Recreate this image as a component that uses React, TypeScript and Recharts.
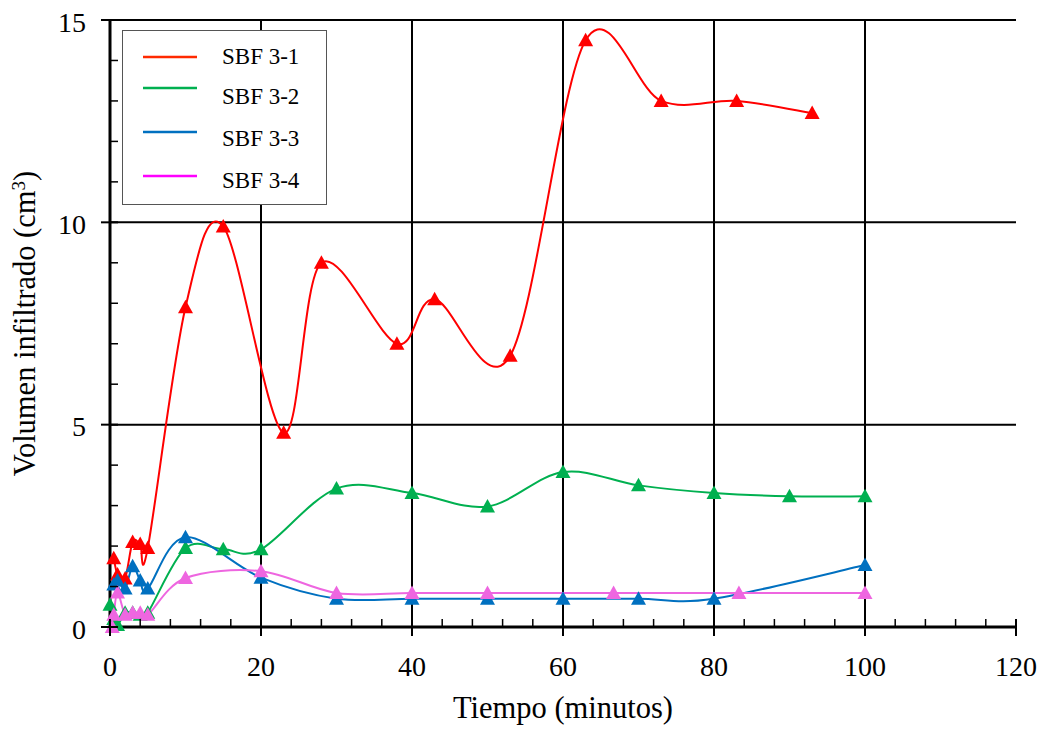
import React from 'react';
import { LineChart, Line, XAxis, YAxis, ReferenceLine, Legend, Label } from 'recharts';

const seriesNames = ['SBF 3-1', 'SBF 3-2', 'SBF 3-3', 'SBF 3-4'];
const lineColors = ['#FF0000', '#00B050', '#0070C0', '#EE66E0'];
const legendColors = ['#FF2A00', '#00B050', '#0070C0', '#FF00FF'];

const sbf31X = [0.5, 1, 2, 3, 4, 5, 10, 15, 23, 28, 38, 43, 53, 63, 73, 83, 93];
const sbf31Y = [1.7, 1.3, 1.2, 2.1, 2.05, 1.95, 7.9, 9.9, 4.8, 9.0, 7.0, 8.1, 6.7, 14.5, 13.0, 13.0, 12.7];

const sbf32X = [0, 0.5, 1, 2, 3, 4, 5, 10, 15, 20, 30, 40, 50, 60, 70, 80, 90, 100];
const sbf32Y = [0.55, 0.2, 0.05, 0.35, 0.35, 0.3, 0.35, 1.95, 1.92, 1.92, 3.42, 3.31, 2.98, 3.83, 3.5, 3.31, 3.23, 3.23];

const sbf33X = [0.5, 1, 2, 3, 4, 5, 10, 20, 30, 40, 50, 60, 70, 80, 100];
const sbf33Y = [1.05, 1.15, 0.95, 1.5, 1.15, 0.95, 2.22, 1.22, 0.7, 0.7, 0.7, 0.7, 0.7, 0.7, 1.53];

const sbf34X = [0.3, 0.5, 1, 2, 3, 4, 5, 10, 20, 30, 40, 50, 66.7, 83.3, 100];
const sbf34Y = [0, 0.3, 0.85, 0.3, 0.35, 0.35, 0.3, 1.21, 1.38, 0.84, 0.84, 0.84, 0.84, 0.84, 0.84];

const xTicks = [0, 4, 8, 12, 16, 20, 24, 28, 32, 36, 40, 44, 48, 52, 56, 60, 64, 68, 72, 76, 80, 84, 88, 92, 96, 100, 104, 108, 112, 116, 120];
const xMajor = [0, 20, 40, 60, 80, 100, 120];
const yTicks = [0, 1, 2, 3, 4, 5, 6, 7, 8, 9, 10, 11, 12, 13, 14, 15];
const yMajor = [0, 5, 10, 15];
const xGrid = [20, 40, 60, 80, 100];
const yGrid = [5, 10, 15];

const build = (xs: number[], ys: number[]) => xs.map((x, i) => ({ x, y: ys[i] }));
const seriesData = [build(sbf31X, sbf31Y), build(sbf32X, sbf32Y), build(sbf33X, sbf33Y), build(sbf34X, sbf34Y)];

const FONT = "'Liberation Serif', 'Times New Roman', 'DejaVu Serif', serif";
const fontStyle = { fontFamily: FONT };

// Excel-like smoothed line (Catmull-Rom through points)
function smoothCurve(context: any) {
  let pts: number[][] = [];
  return {
    areaStart() {},
    areaEnd() {},
    lineStart() { pts = []; },
    point(x: number, y: number) { pts.push([+x, +y]); },
    lineEnd() {
      const n = pts.length;
      if (!n) return;
      context.moveTo(pts[0][0], pts[0][1]);
      for (let i = 0; i < n - 1; i++) {
        const p0 = pts[i - 1] || pts[i];
        const p1 = pts[i];
        const p2 = pts[i + 1];
        const p3 = pts[i + 2] || p2;
        const c1x = p1[0] + (p2[0] - p0[0]) / 6;
        const c1y = p1[1] + (p2[1] - p0[1]) / 6;
        const c2x = p2[0] - (p3[0] - p1[0]) / 6;
        const c2y = p2[1] - (p3[1] - p1[1]) / 6;
        context.bezierCurveTo(c1x, c1y, c2x, c2y, p2[0], p2[1]);
      }
    },
  };
}

const makeTriangle = (color: string) => (props: any) => {
  const { cx, cy, index } = props;
  if (cx == null || cy == null) return <g key={index} />;
  return (
    <polygon
      key={index}
      points={`${cx},${cy - 7.5} ${cx - 7.5},${cy + 6} ${cx + 7.5},${cy + 6}`}
      fill={color}
      stroke="none"
    />
  );
};

const XTick = (props: any) => {
  const { x, y, payload } = props;
  const v = payload.value;
  const major = xMajor.includes(v);
  return (
    <g>
      {major ? (
        <line x1={x} x2={x} y1={y - 8} y2={y + 9} stroke="#000" strokeWidth={2} />
      ) : (
        <line x1={x} x2={x} y1={y - 8} y2={y} stroke="#000" strokeWidth={1.5} />
      )}
      {major && (
        <text x={x} y={y + 49} textAnchor="middle" style={fontStyle} fontSize={28} fill="#000">
          {v}
        </text>
      )}
    </g>
  );
};

const YTick = (props: any) => {
  const { x, y, payload } = props;
  const v = payload.value;
  const major = yMajor.includes(v);
  return (
    <g>
      {major ? (
        <line x1={x - 9} x2={x + 8} y1={y} y2={y} stroke="#000" strokeWidth={2} />
      ) : (
        <line x1={x} x2={x + 8} y1={y} y2={y} stroke="#000" strokeWidth={1.5} />
      )}
      {major && (
        <text x={x - 24} y={y} dy="0.42em" textAnchor="end" style={fontStyle} fontSize={28} fill="#000">
          {v}
        </text>
      )}
    </g>
  );
};

const YTitle = (props: any) => {
  const vb = props.viewBox || {};
  const cx = 16;
  const cy = (vb.y || 0) + (vb.height || 0) / 2;
  return (
    <text
      x={cx}
      y={cy}
      dy="0.35em"
      textAnchor="middle"
      transform={`rotate(-90, ${cx}, ${cy})`}
      style={fontStyle}
      fontSize={30.5}
      fill="#000"
    >
      Volumen infiltrado (cm
      <tspan dy="-10" fontSize={19}>3</tspan>
      <tspan dy="10">)</tspan>
    </text>
  );
};

const XTitle = (props: any) => {
  const vb = props.viewBox || {};
  const cx = (vb.x || 0) + (vb.width || 0) / 2;
  const y = (vb.y || 0) + 91;
  return (
    <text x={cx} y={y} textAnchor="middle" style={fontStyle} fontSize={30.5} fill="#000">
      Tiempo (minutos)
    </text>
  );
};

const rowLineY = [27, 58, 102, 146];
const rowTextY = [26, 66, 108, 150];

const LegendBox = () => (
  <svg width={205} height={175} style={{ display: 'block' }}>
    <rect x={0.5} y={0.5} width={204} height={174} fill="#fff" stroke="#555" strokeWidth={1} />
    {seriesNames.map((name, i) => (
      <g key={name}>
        <line x1={21} x2={75} y1={rowLineY[i]} y2={rowLineY[i]} stroke={legendColors[i]} strokeWidth={2.5} />
        <text x={100} y={rowTextY[i]} dy="0.35em" style={fontStyle} fontSize={23} fill="#000">
          {name}
        </text>
      </g>
    ))}
  </svg>
);

export default function App() {
  return (
    <div
      style={{
        ...fontStyle,
        position: 'absolute',
        left: 0,
        top: 0,
        width: 1042,
        height: 729,
        overflow: 'hidden',
        background: '#fff',
      }}
    >
      <style>{'.recharts-surface { overflow: visible; }'}</style>
      <div style={{ position: 'absolute', left: 8, top: 8 }}>
        <LineChart width={1034} height={721} margin={{ top: 12, right: 26, bottom: 42, left: 30 }}>
          {xGrid.map((v) => (
            <ReferenceLine key={'gx' + v} x={v} stroke="#000" strokeWidth={2} />
          ))}
          {yGrid.map((v) => (
            <ReferenceLine key={'gy' + v} y={v} stroke="#000" strokeWidth={2} />
          ))}
          <XAxis
            type="number"
            dataKey="x"
            domain={[0, 120]}
            ticks={xTicks}
            interval={0}
            allowDuplicatedCategory={false}
            tick={<XTick />}
            tickLine={false}
            tickSize={0}
            tickMargin={0}
            axisLine={{ stroke: '#000', strokeWidth: 3 }}
            height={60}
          >
            <Label content={<XTitle />} />
          </XAxis>
          <YAxis
            type="number"
            dataKey="y"
            domain={[0, 15]}
            ticks={yTicks}
            interval={0}
            tick={<YTick />}
            tickLine={false}
            tickSize={0}
            tickMargin={0}
            axisLine={{ stroke: '#000', strokeWidth: 3 }}
            width={72}
          >
            <Label content={<YTitle />} />
          </YAxis>
          <Legend
            layout="vertical"
            align="center"
            verticalAlign="middle"
            content={<LegendBox />}
            wrapperStyle={{ position: 'absolute', left: 114, top: 22, width: 205, height: 175 }}
          />
          {seriesData.map((d, i) => (
            <Line
              key={seriesNames[i]}
              name={seriesNames[i]}
              data={d}
              dataKey="y"
              type={smoothCurve as any}
              stroke={lineColors[i]}
              strokeWidth={2}
              dot={makeTriangle(lineColors[i])}
              activeDot={false}
              isAnimationActive={false}
            />
          ))}
        </LineChart>
      </div>
    </div>
  );
}
